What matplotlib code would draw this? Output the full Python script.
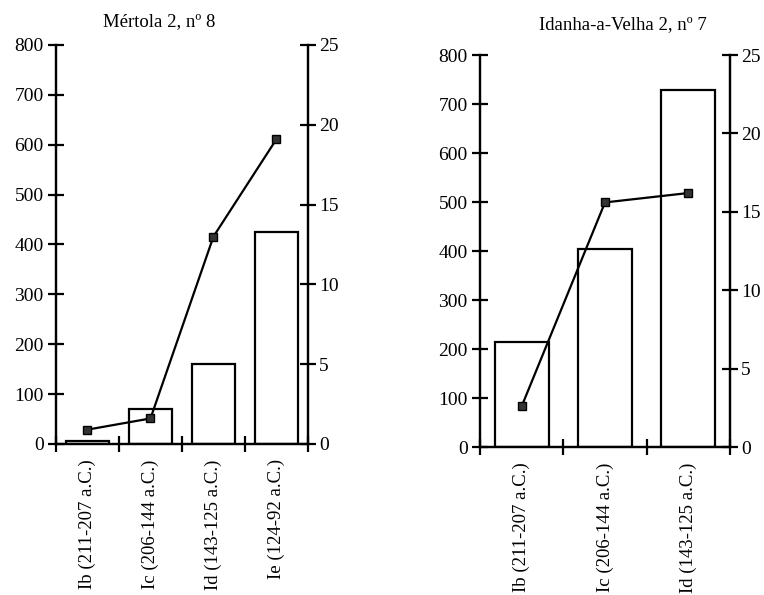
import matplotlib
matplotlib.use("Agg")
import matplotlib.pyplot as plt
import numpy as np

plt.rcParams['font.family'] = ['Liberation Serif', 'DejaVu Serif']

# Mertola 2, n. 8
mert_title = "Mértola 2, nº 8"
mert_cats = ["Ib (211-207 a.C.)", "Ic (206-144 a.C.)", "Id (143-125 a.C.)", "Ie (124-92 a.C.)"]
mert_bars = [5, 70, 160, 425]
mert_line = [0.9, 1.6, 13.0, 19.1]

# Idanha-a-Velha 2, n. 7
idan_title = "Idanha-a-Velha 2, nº 7"
idan_cats = ["Ib (211-207 a.C.)", "Ic (206-144 a.C.)", "Id (143-125 a.C.)"]
idan_bars = [215, 405, 728]
idan_line = [2.6, 15.6, 16.2]

left_ticks = [0, 100, 200, 300, 400, 500, 600, 700, 800]
right_ticks = [0, 5, 10, 15, 20, 25]

LW = 1.6
FS = 14


def panel(fig, rect, title, title_xy, cats, bars, line, width):
    ax = fig.add_axes(rect)
    x = np.arange(len(cats))
    ax.bar(x, bars, width=width, facecolor='white', edgecolor='black', linewidth=LW, zorder=2)
    ax.set_xlim(-0.5, len(cats) - 0.5)
    ax.set_ylim(0, 800)
    ax.set_yticks(left_ticks)
    ax.set_xticks(x)
    ax.set_xticklabels(cats, rotation=90, fontsize=13.5)
    ax.set_xticks(np.arange(len(cats) + 1) - 0.5, minor=True)
    ax.tick_params(axis='x', which='major', length=0, pad=11)
    ax.tick_params(axis='x', which='minor', direction='inout', length=11, width=LW)
    ax.tick_params(axis='y', direction='inout', length=12, width=LW, labelsize=FS, pad=3)
    for s in ['left', 'right', 'bottom']:
        ax.spines[s].set_linewidth(LW)
    ax.spines['top'].set_visible(False)

    ax2 = ax.twinx()
    ax2.set_ylim(0, 25)
    ax2.set_yticks(right_ticks)
    ax2.plot(x, line, color='black', linewidth=LW, marker='s', markersize=6,
             markerfacecolor='#333333', markeredgecolor='black', zorder=3)
    ax2.tick_params(axis='y', direction='inout', length=12, width=LW, labelsize=FS, pad=2)
    for s in ['left', 'right', 'bottom']:
        ax2.spines[s].set_linewidth(LW)
    ax2.spines['top'].set_visible(False)

    ax.text(title_xy[0], title_xy[1], title, transform=ax.transAxes,
            ha='center', va='center', fontsize=13.5)
    return ax, ax2


fig = plt.figure(figsize=(7.64, 5.95), dpi=100)
panel(fig, [0.0733, 0.2538, 0.3298, 0.6706], mert_title, (0.41, 1.058), mert_cats, mert_bars, mert_line, 0.67)
panel(fig, [0.6283, 0.2487, 0.3272, 0.6588], idan_title, (0.57, 1.077), idan_cats, idan_bars, idan_line, 0.65)

fig.savefig("out.png", dpi=100)
